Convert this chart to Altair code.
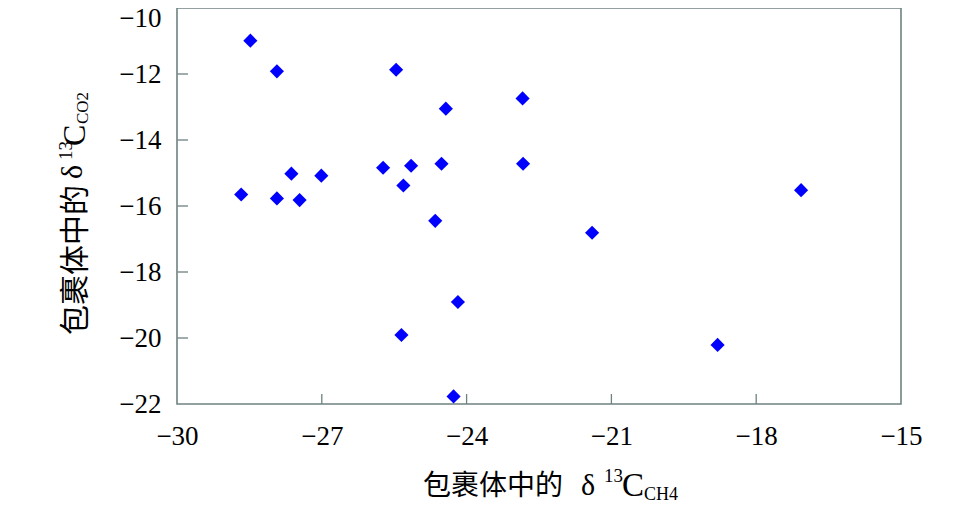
import altair as alt
import pandas as pd

# data
x_ch4 = [-28.67, -28.48, -27.93, -27.93, -27.63, -27.46, -27.01, -25.73, -25.46, -25.31, -25.15,
         -25.35, -24.43, -24.52, -24.65, -24.18, -24.27, -22.84, -22.83, -21.40, -18.80, -17.07]
y_co2 = [-15.65, -10.99, -11.92, -15.77, -15.02, -15.82, -15.08, -14.84, -11.87, -15.38, -14.78,
         -19.91, -13.05, -14.72, -16.45, -18.91, -21.77, -12.74, -14.72, -16.81, -20.21, -15.52]
x_ticks = [-30, -27, -24, -21, -18, -15]
y_ticks = [-22, -20, -18, -16, -14, -12, -10]
x_inner_ticks = [-27, -24, -21, -18]
y_inner_ticks = [-20, -18, -16, -14, -12]

W, H = 724, 396
AXIS_COLOR = "#6f8181"
NUM_FONT = "Liberation Serif"
MIX_FONT = "Liberation Serif, Noto Sans CJK SC"

xs = alt.Scale(domain=[-30, -15], nice=False, zero=False)
ys = alt.Scale(domain=[-22, -10], nice=False, zero=False)
x_axis = alt.Axis(values=x_ticks, title=None, grid=False, ticks=False, tickSize=0, domain=False,
                  labelFont=NUM_FONT, labelFontSize=27, labelColor="black", labelPadding=19,
                  labelFlush=False, labelOverlap=False)
y_axis = alt.Axis(values=y_ticks, title=None, grid=False, ticks=False, tickSize=0, domain=False,
                  labelFont=NUM_FONT, labelFontSize=27, labelColor="black", labelPadding=16,
                  labelOverlap=False,
                  labelOffset={"condition": {"test": "datum.value === -10", "value": 10}, "value": 0})

pts = pd.DataFrame({"x": x_ch4, "y": y_co2})
points = alt.Chart(pts).mark_point(shape="diamond", filled=True, size=200, color="#0000ff",
                                   opacity=1).encode(
    x=alt.X("x:Q", scale=xs, axis=x_axis),
    y=alt.Y("y:Q", scale=ys, axis=y_axis),
)

xt = alt.Chart(pd.DataFrame({"x": x_inner_ticks})).mark_rule(color=AXIS_COLOR, strokeWidth=1.3).encode(
    x=alt.X("x:Q", scale=xs, axis=x_axis), y=alt.value(H - 10), y2=alt.value(H))
yt = alt.Chart(pd.DataFrame({"y": y_inner_ticks})).mark_rule(color=AXIS_COLOR, strokeWidth=1.3).encode(
    y=alt.Y("y:Q", scale=ys, axis=y_axis), y2="y:Q", x=alt.value(0.5), x2=alt.value(11))


def txt(s, x, y, size, font=MIX_FONT, angle=0):
    return alt.Chart(pd.DataFrame({"t": [s]})).mark_text(
        align="left", baseline="alphabetic", font=font, fontSize=size, angle=angle, color="black"
    ).encode(text="t:N", x=alt.value(x), y=alt.value(y))


x_title = [
    txt("包裹体中的", 246, 487, 28),
    txt("δ", 404, 487, 30, NUM_FONT),
    txt("13", 427, 474, 19, NUM_FONT),
    txt("C", 445, 488, 33, NUM_FONT),
    txt("CH4", 467, 492, 18, NUM_FONT),
]
y_title = [
    txt("包裹体中的", -92, 327, 30, angle=270),
    txt("δ", -95, 171, 30, NUM_FONT, 270),
    txt("13", -105, 152, 19, NUM_FONT, 270),
    txt("C", -92, 138, 32, NUM_FONT, 270),
    txt("CO2", -89, 116, 17, NUM_FONT, 270),
]

chart = alt.layer(points, xt, yt, *x_title, *y_title).properties(
    width=W, height=H,
    autosize=alt.AutoSizeParams(type="none"),
    padding={"left": 169, "top": 0, "right": 60, "bottom": 97},
).configure_view(stroke=AXIS_COLOR, strokeWidth=1.6)

chart.save("out.html", embed_options={"renderer": "svg", "actions": False})
